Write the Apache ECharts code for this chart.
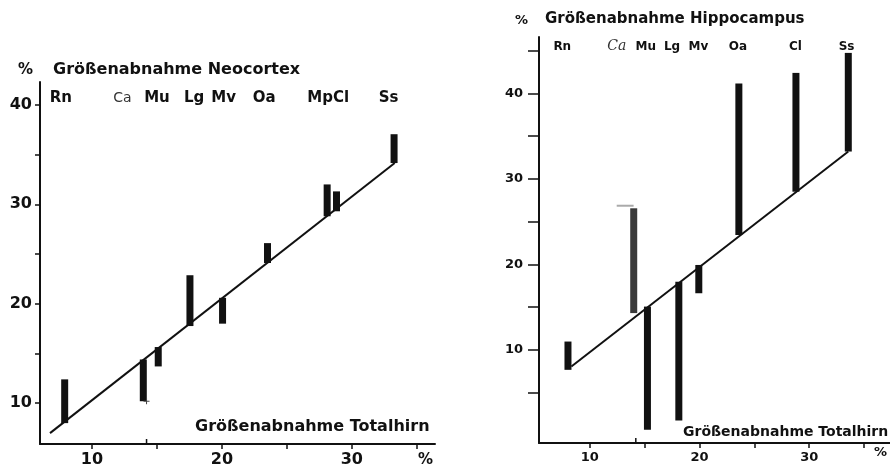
<!DOCTYPE html>
<html>
<head>
<meta charset="utf-8">
<script src="https://cdn.jsdelivr.net/npm/echarts@6/dist/echarts.min.js"></script>
<style>
  html, body { margin: 0; padding: 0; background: #fff; }
  #chart { width: 890px; height: 468px; }
</style>
</head>
<body>
<div id="chart"></div>
<script>
// Species shown above each panel
const neoSpecies = ['Rn', 'Ca', 'Mu', 'Lg', 'Mv', 'Oa', 'MpCl', 'Ss'];
const neoSpeciesX = [7.6, 12.35, 15.0, 17.86, 20.13, 23.25, 28.18, 32.83];
const hipSpecies = ['Rn', 'Ca', 'Mu', 'Lg', 'Mv', 'Oa', 'Cl', 'Ss'];
const hipSpeciesX = [7.5, 12.46, 15.1, 17.5, 19.9, 23.5, 28.75, 33.4];

// Neocortex: total-brain decrease (x) and bar range between regression and observed value
const neoBarX    = [7.9, 13.95, 15.1, 17.54, 20.05, 23.51, 28.1, 28.82, 33.25];
const neoBarLow  = [8.0, 10.2, 13.7, 17.76, 18.0, 24.1, 28.8, 29.3, 34.15];
const neoBarHigh = [12.4, 14.4, 15.65, 22.87, 20.6, 26.1, 32.0, 31.3, 37.05];
const neoFitLine = [[6.77, 6.99], [33.3, 34.15]];
const neoCaCross = [[14.2, 10.2]];

// Hippocampus
const hipBarX    = [8.02, 14.01, 15.26, 18.12, 19.94, 23.59, 28.79, 33.56];
const hipBarLow  = [7.66, 14.3, 0.65, 1.74, 16.62, 23.44, 28.5, 33.2];
const hipBarHigh = [10.97, 26.56, 15.06, 17.98, 19.93, 41.17, 42.4, 44.74];
const hipFitLine = [[8.33, 8.05], [33.56, 33.2]];
const hipCaCap   = [[12.46, 26.86], [14.0, 26.86]];

// Marker ticks for Ca on the x axes (pointing into the plot)
const caAxisMark = [14.2];

// Axis ticks
const neoXTicks = [10, 15, 20, 25, 30, 35];
const neoXLabels = [10, 20, 30];
const neoYTicks = [10, 15, 20, 25, 30, 35, 40];
const neoYLabels = [10, 20, 30, 40];
const hipXTicks = [10, 15, 20, 25, 30, 35];
const hipXLabels = [10, 20, 30];
const hipYTicks = [5, 10, 15, 20, 25, 30, 35, 40, 45];
const hipYLabels = [10, 20, 30, 40];

const FONT = 'DejaVu Sans';
const INK = '#111';

function xAxisDef(grid, min, max, ticks, labels, fontSize) {
  return {
    type: 'value', gridIndex: grid, min: min, max: max,
    splitLine: { show: false },
    axisLine: { onZero: false, lineStyle: { color: INK, width: 2 } },
    axisTick: { customValues: ticks, length: 5, lineStyle: { color: INK, width: 1.5 } },
    axisLabel: { customValues: labels, margin: 8, color: INK, fontFamily: FONT, fontWeight: 'bold', fontSize: fontSize }
  };
}
function yAxisDef(grid, min, max, ticks, labels, fontSize, tickLen, margin) {
  return {
    type: 'value', gridIndex: grid, min: min, max: max,
    splitLine: { show: false },
    axisLine: { onZero: false, lineStyle: { color: INK, width: 2 } },
    axisTick: { customValues: ticks, length: tickLen, lineStyle: { color: INK, width: 1.5 } },
    axisLabel: { customValues: labels, margin: margin, color: INK, fontFamily: FONT, fontWeight: 'bold', fontSize: fontSize }
  };
}

function barSeries(idx, xs, lows, highs, colors) {
  return {
    type: 'custom', xAxisIndex: idx, yAxisIndex: idx,
    data: xs.map((x, i) => [x, lows[i], highs[i], i]),
    renderItem(params, api) {
      const x = api.value(0);
      const top = api.coord([x, api.value(2)]);
      const bottom = api.coord([x, api.value(1)]);
      const w = 7;
      const c = (colors && colors[api.value(3)]) || INK;
      return {
        type: 'rect',
        shape: { x: top[0] - w / 2, y: top[1], width: w, height: bottom[1] - top[1] },
        style: { fill: c }
      };
    },
    z: 3
  };
}

function speciesSeries(idx, names, xs, yLevel, fontSize, caStyle) {
  return {
    type: 'custom', xAxisIndex: idx, yAxisIndex: idx,
    data: xs.map((x, i) => [x, yLevel, i]),
    renderItem(params, api) {
      const p = api.coord([api.value(0), api.value(1)]);
      const name = names[api.value(2)];
      const isCa = name === 'Ca';
      return {
        type: 'text',
        style: {
          text: name, x: p[0], y: p[1], align: 'center', verticalAlign: 'middle',
          fill: isCa ? '#333' : INK,
          font: isCa ? caStyle : ('bold ' + fontSize + 'px ' + FONT)
        }
      };
    },
    z: 4
  };
}

// Short upward tick on the x axis at the Ca position
function axisMarkSeries(idx, xs, yMin) {
  return {
    type: 'custom', xAxisIndex: idx, yAxisIndex: idx,
    data: xs.map(x => [x, yMin]),
    renderItem(params, api) {
      const p = api.coord([api.value(0), api.value(1)]);
      return {
        type: 'line',
        shape: { x1: p[0], y1: p[1], x2: p[0], y2: p[1] - 5 },
        style: { stroke: INK, lineWidth: 1.5 }
      };
    },
    z: 4
  };
}

function crossSeries(idx, pts) {
  return {
    type: 'custom', xAxisIndex: idx, yAxisIndex: idx,
    data: pts,
    renderItem(params, api) {
      const p = api.coord([api.value(0), api.value(1)]);
      return {
        type: 'group',
        children: [
          { type: 'line', shape: { x1: p[0] - 3, y1: p[1], x2: p[0] + 3, y2: p[1] }, style: { stroke: '#444', lineWidth: 1 } },
          { type: 'line', shape: { x1: p[0], y1: p[1] - 3, x2: p[0], y2: p[1] + 3 }, style: { stroke: '#444', lineWidth: 1 } }
        ]
      };
    },
    z: 4
  };
}

function lineSeries(idx, pts, color, width) {
  return {
    type: 'line', xAxisIndex: idx, yAxisIndex: idx, data: pts,
    symbol: 'none', silent: true, animation: false,
    lineStyle: { color: color, width: width }, z: 2
  };
}

const chart = echarts.init(document.getElementById('chart'), null, { renderer: 'canvas' });
chart.setOption({
  backgroundColor: '#fff',
  animation: false,
  grid: [
    { left: 40, top: 82, width: 395, height: 363 },
    { left: 539, top: 37, width: 351, height: 406 }
  ],
  xAxis: [
    xAxisDef(0, 6, 36.4, neoXTicks, neoXLabels, 16),
    xAxisDef(1, 5.38, 37.36, hipXTicks, hipXLabels, 13)
  ],
  yAxis: [
    yAxisDef(0, 5.9, 42.3, neoYTicks, neoYLabels, 16, 5, 8),
    yAxisDef(1, -0.9, 46.6, hipYTicks, hipYLabels, 13, 11, 16)
  ],
  series: [
    lineSeries(0, neoFitLine, INK, 2),
    barSeries(0, neoBarX, neoBarLow, neoBarHigh),
    crossSeries(0, neoCaCross),
    axisMarkSeries(0, caAxisMark, 5.9),
    speciesSeries(0, neoSpecies, neoSpeciesX, 40.7, 15, '14px "DejaVu Sans"'),
    lineSeries(1, hipFitLine, INK, 2),
    lineSeries(1, hipCaCap, '#aaa', 2),
    barSeries(1, hipBarX, hipBarLow, hipBarHigh, [null, '#3a3a3a']),
    axisMarkSeries(1, caAxisMark, -0.9),
    speciesSeries(1, hipSpecies, hipSpeciesX, 45.45, 12, 'italic 14px "DejaVu Serif"')
  ],
  graphic: [
    { type: 'text', left: 18, top: 63, style: { text: '%', font: 'bold 15px ' + FONT, fill: INK } },
    { type: 'text', left: 53, top: 62, style: { text: 'Größenabnahme Neocortex', font: 'bold 16px ' + FONT, fill: INK } },
    { type: 'text', left: 195, top: 419, style: { text: 'Größenabnahme Totalhirn', font: 'bold 16px ' + FONT, fill: INK } },
    { type: 'text', left: 418, top: 453, style: { text: '%', font: 'bold 15px ' + FONT, fill: INK } },
    { type: 'text', left: 515, top: 14, style: { text: '%', font: 'bold 13px ' + FONT, fill: INK } },
    { type: 'text', left: 545, top: 12, style: { text: 'Größenabnahme Hippocampus', font: 'bold 15px ' + FONT, fill: INK } },
    { type: 'text', left: 683, top: 425, style: { text: 'Größenabnahme Totalhirn', font: 'bold 14px ' + FONT, fill: INK } },
    { type: 'text', left: 874, top: 446, style: { text: '%', font: 'bold 13px ' + FONT, fill: INK } }
  ]
});
</script>
</body>
</html>
